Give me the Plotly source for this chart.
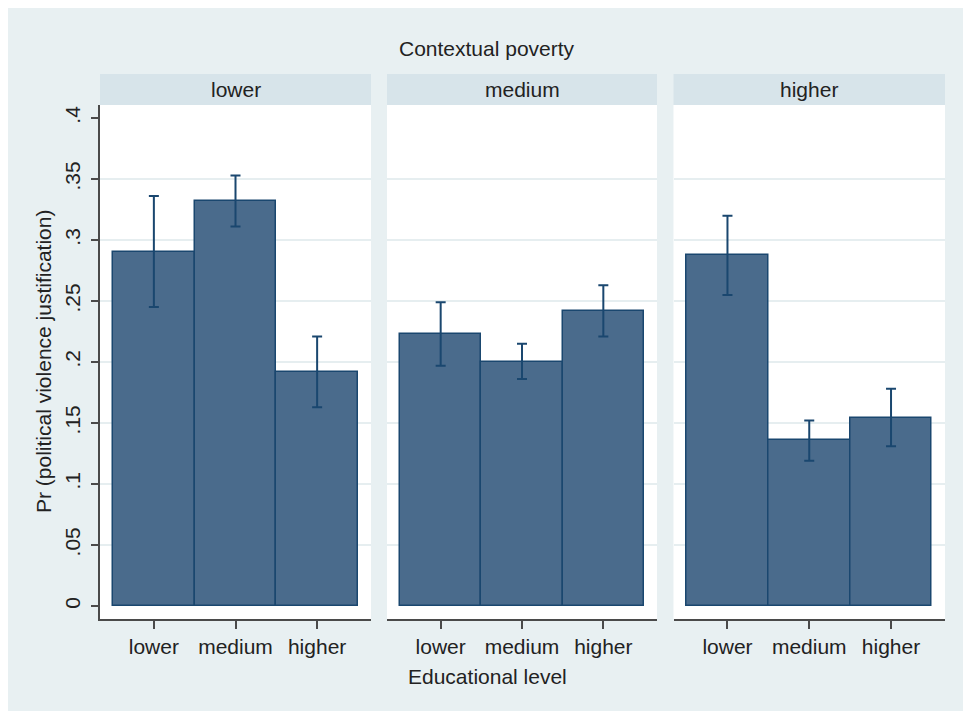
import plotly.graph_objects as go

# ---- data ----
poverty_levels = ["lower", "medium", "higher"]
edu_levels = ["lower", "medium", "higher"]
# predicted probabilities (mean) per poverty panel, per education level
pr_mean = {
    "lower":  [0.290, 0.332, 0.192],
    "medium": [0.223, 0.200, 0.242],
    "higher": [0.288, 0.136, 0.154],
}
ci_low = {
    "lower":  [0.245, 0.311, 0.163],
    "medium": [0.197, 0.186, 0.221],
    "higher": [0.255, 0.119, 0.131],
}
ci_high = {
    "lower":  [0.336, 0.353, 0.221],
    "medium": [0.249, 0.215, 0.263],
    "higher": [0.320, 0.152, 0.178],
}
y_tick_vals = [0, 0.05, 0.1, 0.15, 0.2, 0.25, 0.3, 0.35, 0.4]
y_tick_text = ["0", ".05", ".1", ".15", ".2", ".25", ".3", ".35", ".4"]
grid_vals = [0.05, 0.1, 0.15, 0.2, 0.25, 0.3, 0.35]

# ---- styling ----
BG = "#E8F0F2"
HEADER = "#D7E4EA"
GRID = "#E6EEF0"
BAR_FILL = "#4A6B8C"
BAR_LINE = "#1A476F"
AXIS = "#4A4A4A"
TXT = "#222222"
FONT = "Liberation Sans"
FS = 21

OFF = 8  # page body margin
W, H = 971 - OFF, 711 - OFF
ML, MR, MT, MB = 100 - OFF, 26, 74 - OFF, 92
PW = W - ML - MR
PH = H - MT - MB

def px_x(p):  # p in window pixel coords
    return (p - OFF - ML) / PW

def px_y(p):
    return (H + OFF - MB - p) / PH

domains = [[px_x(100), px_x(371)], [px_x(387), px_x(657)], [px_x(673.5), px_x(945)]]
ydom = [0, px_y(105)]

fig = go.Figure()
for i, pov in enumerate(poverty_levels):
    mean = pr_mean[pov]
    up = [h - m for h, m in zip(ci_high[pov], mean)]
    dn = [m - l for m, l in zip(mean, ci_low[pov])]
    xa = "x" if i == 0 else f"x{i+1}"
    ya = "y" if i == 0 else f"y{i+1}"
    fig.add_trace(go.Bar(
        x=list(range(len(edu_levels))), y=mean, width=1,
        marker=dict(color=BAR_FILL, line=dict(color=BAR_LINE, width=1.5)),
        error_y=dict(type="data", symmetric=False, array=up, arrayminus=dn,
                     color=BAR_LINE, thickness=2, width=5),
        xaxis=xa, yaxis=ya, showlegend=False,
    ))

layout = dict(
    width=W, height=H,
    margin=dict(l=ML, r=MR, t=MT, b=MB),
    paper_bgcolor=BG, plot_bgcolor="white",
    font=dict(family=FONT, size=FS, color=TXT),
    bargap=0,
)
for i in range(3):
    xk = "xaxis" if i == 0 else f"xaxis{i+1}"
    yk = "yaxis" if i == 0 else f"yaxis{i+1}"
    yname = "y" if i == 0 else f"y{i+1}"
    layout[xk] = dict(
        domain=domains[i], anchor=yname, range=[-0.66, 2.66],
        tickvals=list(range(len(edu_levels))), ticktext=edu_levels,
        ticks="outside", ticklen=8, tickwidth=1.5, tickcolor=AXIS,
        showline=True, linecolor=AXIS, linewidth=1.5,
        showgrid=False, zeroline=False,
        tickfont=dict(size=FS, color=TXT, family=FONT),
    )
    ycfg = dict(
        domain=ydom, anchor="x" if i == 0 else f"x{i+1}",
        range=[-0.0107, 0.4107],
        tickvals=y_tick_vals, ticktext=y_tick_text,
        showgrid=False, zeroline=False,
        minor=dict(tickvals=grid_vals, showgrid=True, gridcolor=GRID,
                   gridwidth=1.5, ticks=""),
    )
    if i == 0:
        ycfg.update(ticks="outside", ticklen=7, tickwidth=1.5, tickcolor=AXIS,
                    showline=True, linecolor=AXIS, linewidth=1.5,
                    tickangle=-90, ticklabelstandoff=3,
                    tickfont=dict(size=FS, color=TXT, family=FONT))
    else:
        ycfg.update(matches="y", showticklabels=False, ticks="", showline=False)
    layout[yk] = ycfg

shapes = []
annotations = []
for i, pov in enumerate(poverty_levels):
    shapes.append(dict(type="rect", xref="paper", yref="paper",
                       x0=domains[i][0], x1=domains[i][1],
                       y0=ydom[1], y1=1, fillcolor=HEADER, line=dict(width=0),
                       layer="below"))
    annotations.append(dict(text=pov, xref="paper", yref="paper",
                            x=(domains[i][0] + domains[i][1]) / 2, y=px_y(89.5),
                            xanchor="center", yanchor="middle", showarrow=False,
                            font=dict(size=FS, color=TXT, family=FONT)))

annotations.append(dict(text="Contextual poverty", xref="paper", yref="paper",
                        x=px_x(487), y=px_y(48), xanchor="center", yanchor="middle",
                        showarrow=False, font=dict(size=FS, color=TXT, family=FONT)))
annotations.append(dict(text="Educational level", xref="paper", yref="paper",
                        x=px_x(487), y=px_y(677), xanchor="center", yanchor="middle",
                        showarrow=False, font=dict(size=FS, color=TXT, family=FONT)))
annotations.append(dict(text="Pr (political violence justification)", xref="paper",
                        yref="paper", x=px_x(43), y=px_y(362), xanchor="center",
                        yanchor="middle", textangle=-90, showarrow=False,
                        font=dict(size=FS, color=TXT, family=FONT)))

layout["shapes"] = shapes
layout["annotations"] = annotations
fig.update_layout(**layout)
fig.write_html("out.html")
